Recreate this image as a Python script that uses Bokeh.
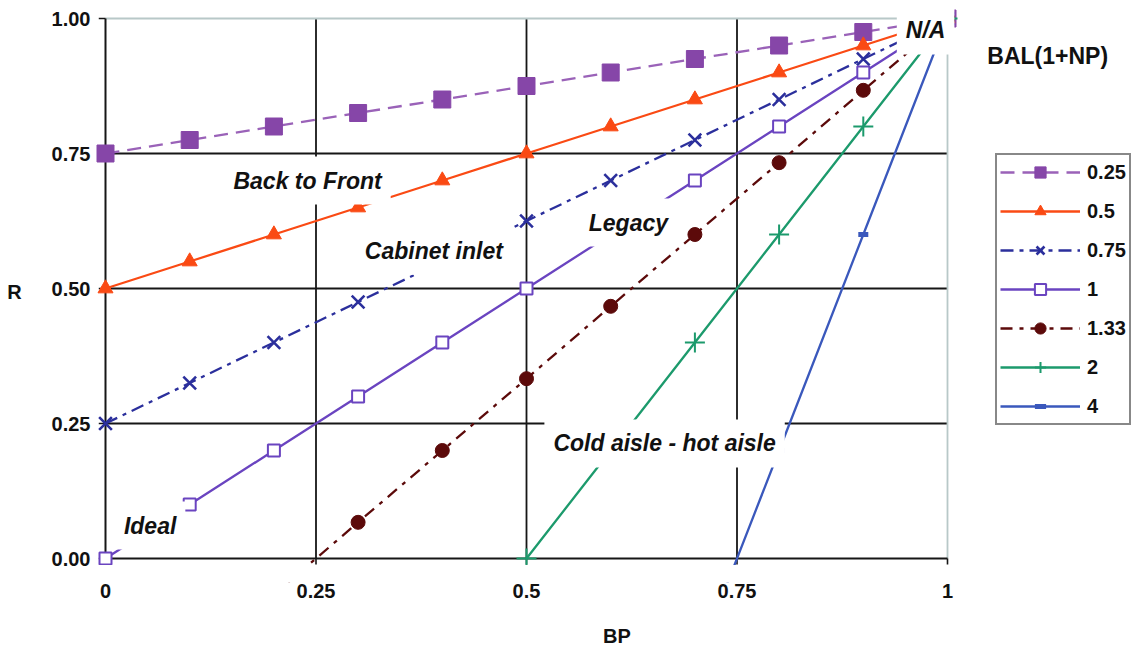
from bokeh.plotting import figure
from bokeh.models import (Range1d, Label, Legend, LegendItem, NumeralTickFormatter, Title,
                          BoxAnnotation, LinearAxis, FixedTicker)
from bokeh.embed import file_html
from bokeh.resources import INLINE

# ---------------- data ----------------
bp_full = [0.0, 0.1, 0.2, 0.3, 0.4, 0.5, 0.6, 0.7, 0.8, 0.9, 1.0]
r_bal_025 = [0.75, 0.775, 0.80, 0.825, 0.85, 0.875, 0.90, 0.925, 0.95, 0.975, 1.0]
r_bal_05 = [0.50, 0.55, 0.60, 0.65, 0.70, 0.75, 0.80, 0.85, 0.90, 0.95, 1.0]
r_bal_075 = [0.25, 0.325, 0.40, 0.475, 0.55, 0.625, 0.70, 0.775, 0.85, 0.925, 1.0]
r_bal_1 = [0.0, 0.1, 0.2, 0.3, 0.4, 0.5, 0.6, 0.7, 0.8, 0.9, 1.0]
bp_133 = [0.2, 0.3, 0.4, 0.5, 0.6, 0.7, 0.8, 0.9, 1.0]
r_bal_133 = [-0.067, 0.067, 0.20, 0.333, 0.467, 0.60, 0.733, 0.867, 1.0]
bp_2 = [0.5, 0.6, 0.7, 0.8, 0.9, 1.0]
r_bal_2 = [0.0, 0.2, 0.4, 0.6, 0.8, 1.0]
bp_4 = [0.7, 0.8, 0.9, 1.0]
r_bal_4 = [-0.2, 0.2, 0.6, 1.0]
legend_labels = ["0.25", "0.5", "0.75", "1", "1.33", "2", "4"]

x_ticks = [0.0, 0.25, 0.5, 0.75, 1.0]
x_tick_labels = ["0", "0.25", "0.5", "0.75", "1"]
y_ticks = [0.0, 0.25, 0.5, 0.75, 1.0]
grid_vals = [0.25, 0.5, 0.75]

region_labels = ["Back to Front", "Cabinet inlet", "Legacy", "Cold aisle - hot aisle", "Ideal", "N/A"]
region_x = [0.240, 0.39, 0.621, 0.664, 0.053, 0.974]
region_y = [0.70, 0.570, 0.622, 0.213, 0.061, 0.978]

FONT = "Liberation Sans"
INK = "#111111"

p = figure(width=1138, height=647,
           x_range=Range1d(-10 / 842, -10 / 842 + 1043 / 842),
           y_range=Range1d(-24 / 540, 1 + 18 / 540),
           output_backend="svg", toolbar_location=None,
           min_border_left=95, min_border_right=0, min_border_top=0, min_border_bottom=65)
p.xgrid.visible = False
p.ygrid.visible = False
p.outline_line_color = None
p.background_fill_color = "white"
p.border_fill_color = "white"

for ax in (p.xaxis[0], p.yaxis[0]):
    ax.axis_line_color = None
    ax.major_tick_in = 0
    ax.major_tick_out = 0
    ax.minor_tick_in = 0
    ax.minor_tick_out = 0
    ax.major_label_text_font = FONT
    ax.major_label_text_font_style = "bold"
    ax.major_label_text_font_size = "20px"
    ax.major_label_text_color = INK
p.xaxis.ticker = x_ticks
p.xaxis.major_label_overrides = dict(zip(x_ticks, x_tick_labels))
p.xaxis.major_label_standoff = 1
p.yaxis.ticker = y_ticks
p.yaxis.formatter = NumeralTickFormatter(format="0.00")
p.yaxis.major_label_standoff = 5
p.yaxis.axis_label = "R"
p.yaxis.axis_label_orientation = "horizontal"
p.yaxis.axis_label_standoff = 27
p.yaxis.axis_label_text_font = FONT
p.yaxis.axis_label_text_font_style = "bold"
p.yaxis.axis_label_text_font_size = "20px"
p.yaxis.axis_label_text_color = INK

# blank spacer axis (one white tick, empty label) so that the BP title sits lower
spacer_tick = [1.2]
spacer = LinearAxis(ticker=FixedTicker(ticks=spacer_tick), axis_line_color=None,
                    major_tick_in=0, major_tick_out=22, major_tick_line_color="white",
                    minor_tick_in=0, minor_tick_out=0, major_label_standoff=0,
                    major_label_overrides={spacer_tick[0]: ""}, major_label_text_font_size="1px")
p.add_layout(spacer, "below")
p.add_layout(Title(text="BP", align="center", vertical_align="bottom", offset=-89.5, standoff=0,
                   text_font=FONT, text_font_style="bold", text_font_size="20px",
                   text_color=INK), "below")

# grid lines, axis lines, borders, ticks
p.segment(x0=grid_vals, y0=0, x1=grid_vals, y1=1, line_color="#161616", line_width=1.8)
p.segment(x0=0, y0=grid_vals, x1=1, y1=grid_vals, line_color="#161616", line_width=1.8)
p.segment(x0=0, y0=1, x1=1, y1=1, line_color="#b8c8c8", line_width=1.8)
p.segment(x0=1, y0=0, x1=1, y1=1, line_color="#b8c8c8", line_width=1.8)
p.segment(x0=0, y0=0, x1=1, y1=0, line_color="#161616", line_width=2)
p.segment(x0=0, y0=0, x1=0, y1=1, line_color="#161616", line_width=2)
p.segment(x0=-0.008, y0=y_ticks, x1=0, y1=y_ticks, line_color="#161616", line_width=1.6)
p.segment(x0=x_ticks, y0=0, x1=x_ticks, y1=-0.011, line_color="#161616", line_width=1.6)

items = []

def series(xs, ys, color, dash, marker, size, mcolor=None, fill=None, mlw=1.0, label=""):
    l = p.line(xs, ys, line_color=color, line_width=2.3, line_dash=dash)
    mc = mcolor or color
    s = p.scatter(xs, ys, marker=marker, size=size, line_color=mc,
                  fill_color=(fill if fill is not None else mc), line_width=mlw)
    items.append(LegendItem(label=label, renderers=[l, s]))

series(bp_full, r_bal_025, "#9a62b8", "14 8", "square", 17, mcolor="#8646a8", label=legend_labels[0])
series(bp_full, r_bal_05, "#fa4a14", "solid", "triangle", 15, label=legend_labels[1])
series(bp_full, r_bal_075, "#2b2f9c", "13 6 4 6", "x", 18, mlw=2.6, label=legend_labels[2])
series(bp_full, r_bal_1, "#6a44c0", "solid", "square", 12, fill="white", mlw=2.0, label=legend_labels[3])
series(bp_133, r_bal_133, "#5c0a0a", "12 7 4 7", "circle", 14, label=legend_labels[4])
series(bp_2, r_bal_2, "#1c9a6c", "solid", "cross", 20, mlw=2.0, label=legend_labels[5])
series(bp_4, r_bal_4, "#3a58bc", "solid", "dash", 10, mlw=5, label=legend_labels[6])

# plot-area clip just below the R = 0 axis (as in the original chart)
p.add_layout(BoxAnnotation(top=-0.012, bottom=-0.3, left=-0.3, right=1.5,
                           fill_color="white", fill_alpha=1.0, line_color=None))

legend = Legend(items=items, location=(900, 157), orientation="vertical",
                glyph_width=80, glyph_height=28, spacing=11, padding=3, margin=0,
                label_standoff=7, label_text_font=FONT, label_text_font_style="bold",
                label_text_font_size="20px", label_text_color=INK,
                border_line_color=INK, border_line_width=2,
                background_fill_color="white", background_fill_alpha=1.0)
p.add_layout(legend, "center")

for t, x, y in zip(region_labels, region_x, region_y):
    p.add_layout(Label(x=x, y=y, text=t, text_align="center", text_baseline="middle",
                       text_font=FONT, text_font_style="bold italic", text_font_size="23px",
                       text_color=INK, background_fill_color="white",
                       background_fill_alpha=1.0, padding=(9, 11)))

p.add_layout(Label(x=1.119, y=0.931, text="BAL(1+NP)", text_align="center", text_baseline="middle",
                   text_font=FONT, text_font_style="bold", text_font_size="23px", text_color=INK))

open("out.html", "w").write(file_html(p, INLINE))
